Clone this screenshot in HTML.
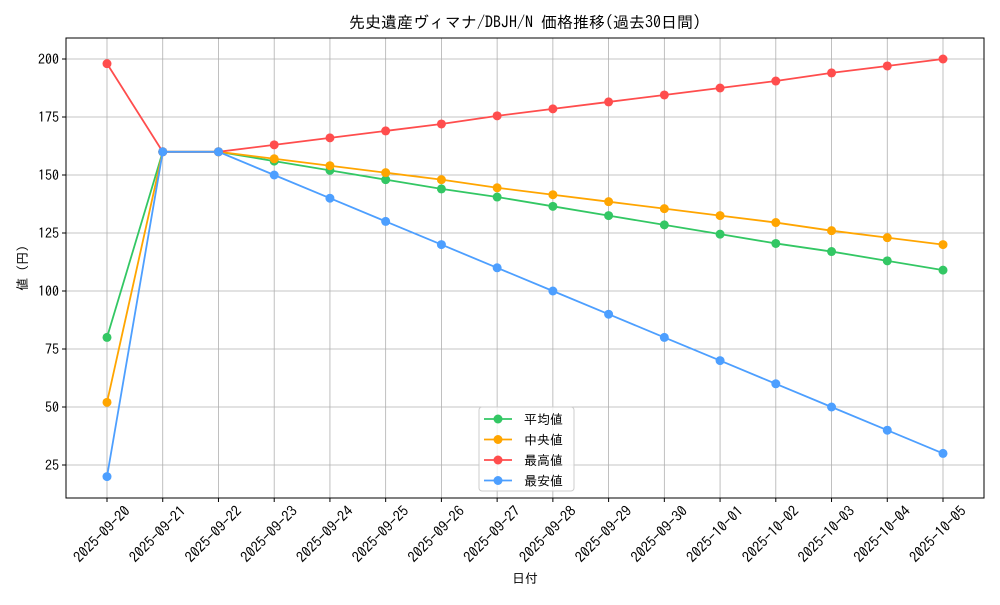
<!DOCTYPE html>
<html><head><meta charset="utf-8"><style>
body{margin:0;background:#fff}
svg text{font-family:"IPAGothic","Noto Sans CJK JP",sans-serif;fill:#000}
</style></head><body>
<svg id="c" width="1000" height="600" xmlns="http://www.w3.org/2000/svg"></svg>
<script>
const s=document.getElementById('c');let h='';
const L=66,R=984,T=38,B=498;
const X=i=>107+i*(836/15), Y=v=>59+(200-v)*2.32;
const dates=['2025-09-20','2025-09-21','2025-09-22','2025-09-23','2025-09-24','2025-09-25','2025-09-26','2025-09-27','2025-09-28','2025-09-29','2025-09-30','2025-10-01','2025-10-02','2025-10-03','2025-10-04','2025-10-05'];
for(let i=0;i<16;i++){const x=X(i);h+=`<line x1="${x}" y1="${T}" x2="${x}" y2="${B}" stroke="#b0b0b0" stroke-width="0.8"/><line x1="${x}" y1="${B}" x2="${x}" y2="${B+4}" stroke="#000"/>`;
h+=`<text transform="translate(${x+24},${B+14}) rotate(-45)" text-anchor="end" font-size="14.5">${dates[i]}</text>`;}
for(let v=25;v<=200;v+=25){const y=Y(v);h+=`<line x1="${L}" y1="${y}" x2="${R}" y2="${y}" stroke="#b0b0b0" stroke-width="0.8"/><line x1="${L-4}" y1="${y}" x2="${L}" y2="${y}" stroke="#000"/><text x="${L-7}" y="${y+5}" text-anchor="end" font-size="14">${v}</text>`;}
h+=`<rect x="${L}" y="${T}" width="${R-L}" height="${B-T}" fill="none" stroke="#000" stroke-width="1"/>`;
const series=[
['平均値','#33c764',[80,160,160,156,152,148,144,140.5,136.5,132.5,128.5,124.5,120.5,117,113,109]],
['中央値','#ffa500',[52,160,160,157,154,151,148,144.5,141.5,138.5,135.5,132.5,129.5,126,123,120]],
['最高値','#ff4d4d',[198,160,160,163,166,169,172,175.5,178.5,181.5,184.5,187.5,190.5,194,197,200]],
['最安値','#4d9fff',[20,160,160,150,140,130,120,110,100,90,80,70,60,50,40,30]]];
for(const [n,c,d] of series){h+=`<polyline fill="none" stroke="${c}" stroke-width="1.8" points="${d.map((v,i)=>X(i)+','+Y(v)).join(' ')}"/>`;
d.forEach((v,i)=>h+=`<circle cx="${X(i)}" cy="${Y(v)}" r="4.5" fill="${c}"/>`);}
h+=`<rect x="479" y="407" width="95" height="84" rx="3" fill="#fff" fill-opacity="0.8" stroke="#ccc"/>`;
series.forEach(([n,c],k)=>{const y=419+k*20.5;h+=`<line x1="484" y1="${y}" x2="512" y2="${y}" stroke="${c}" stroke-width="1.8"/><circle cx="498" cy="${y}" r="4.5" fill="${c}"/><text x="524" y="${y+5}" font-size="13">${n}</text>`;});
h+=`<text x="525" y="28" text-anchor="middle" font-size="16">先史遺産ヴィマナ/DBJH/N 価格推移(過去30日間)</text>`;
h+=`<text x="525" y="583" text-anchor="middle" font-size="13">日付</text>`;
h+=`<text transform="translate(27,268) rotate(-90)" text-anchor="middle" font-size="13">値 (円)</text>`;
s.innerHTML=h;
</script>
</body></html>
